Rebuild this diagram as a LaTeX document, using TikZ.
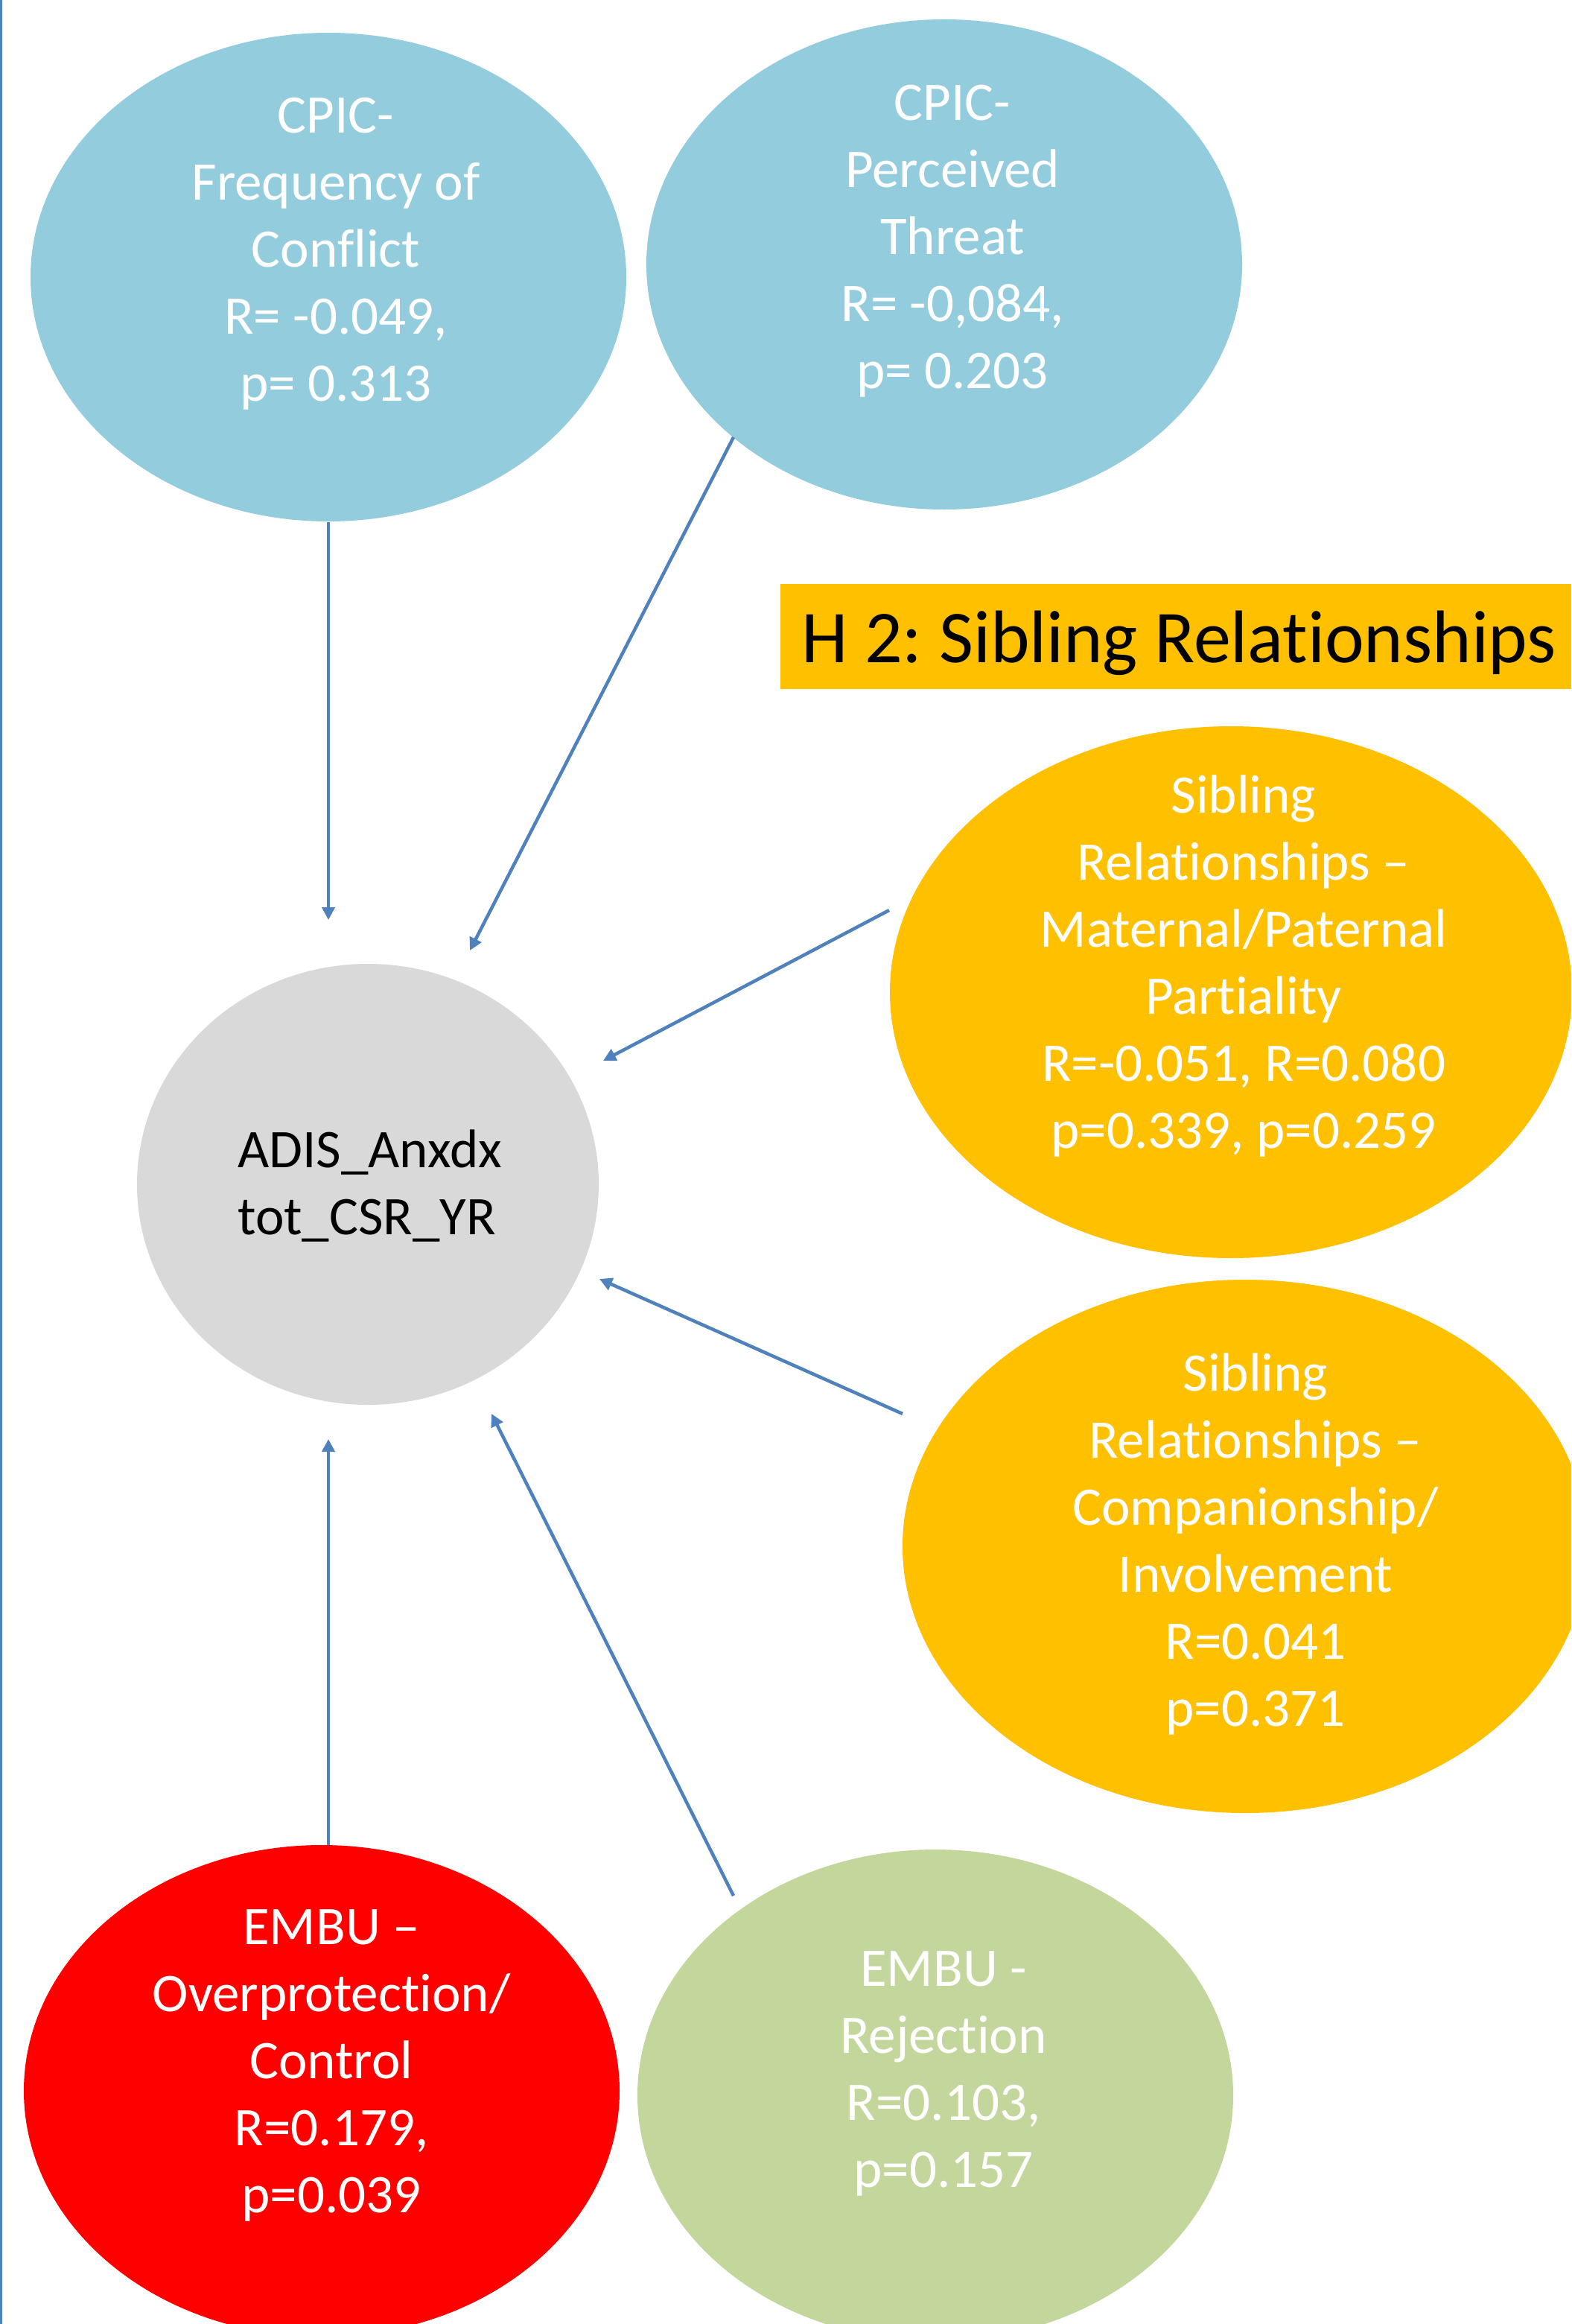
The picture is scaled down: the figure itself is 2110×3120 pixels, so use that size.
\documentclass[tikz,border=0pt]{standalone}
\usepackage{fontspec}
\setmainfont{Carlito}[Ligatures=NoCommon]
\usetikzlibrary{shapes.geometric,arrows.meta}
\definecolor{cpicblue}{HTML}{93CDDD}
\definecolor{sibgold}{HTML}{FFC000}
\definecolor{adisgrey}{HTML}{D9D9D9}
\definecolor{embured}{HTML}{FF0000}
\definecolor{embugreen}{HTML}{C3D69B}
\definecolor{arrowblue}{HTML}{4F81BD}
\frenchspacing
\begin{document}
\begin{tikzpicture}[x=1pt,y=-1pt,
  blob/.style={ellipse, draw=none, inner sep=0pt, outer sep=0pt},
  lbl/.style={text=white, text width=820pt, inner sep=0pt, anchor=base,
              font=\fontsize{73}{90}\selectfont\frenchspacing,
              execute at begin node={\centering\spaceskip=0pt\xspaceskip=0pt\relax}},
  lblleft/.style={text=black, text width=500pt, inner sep=0pt, anchor=base west,
              font=\fontsize{73}{90}\selectfont\frenchspacing,
              execute at begin node={\raggedright\spaceskip=0pt\xspaceskip=0pt\relax}},
  link/.style={draw=arrowblue, line width=4.5pt, -{Triangle[length=17pt,width=17pt]}}
]
\useasboundingbox (0,0) rectangle (2110,3120);
\clip (0,0) rectangle (2110,3120);
\fill[white] (0,0) rectangle (2110,3120);

% left border line
\draw[draw=arrowblue, line width=3pt] (1.5,0) -- (1.5,3120);

% ellipses
\node[blob, fill=cpicblue, minimum width=800pt, minimum height=656pt] (cf) at (441,372) {};
\node[blob, fill=cpicblue, minimum width=800pt, minimum height=658pt] (ct) at (1268,355) {};
\node[blob, fill=adisgrey, minimum width=620pt, minimum height=592pt] (adis) at (494,1590) {};
\node[blob, fill=sibgold, minimum width=916pt, minimum height=714pt] (mat) at (1653,1332) {};
\node[blob, fill=sibgold, minimum width=920pt, minimum height=716pt] (comp) at (1672,2076) {};
\node[blob, fill=embured, minimum width=800pt, minimum height=660pt] (over) at (432,2807) {};
\node[blob, fill=embugreen, minimum width=800pt, minimum height=660pt] (rej) at (1256,2813) {};

% title box
\node[fill=sibgold, minimum width=1062pt, minimum height=141pt, anchor=north west, inner sep=0pt] (h2box) at (1048,784) {};
\node[anchor=base west, inner sep=0pt, font=\fontsize{100}{120}\selectfont\frenchspacing] (h2) at (1076,889) {H 2: Sibling Relationships};

% texts
\node[lbl] (cft) at (451,179) {CPIC-\\Frequency of\\Conflict\\R= -0.049,\\p= 0.313};
\node[lbl] (ctt) at (1279,162) {CPIC-\\Perceived\\Threat\\R= -0,084,\\p= 0.203};
\node[lblleft] (adist) at (319,1567) {ADIS\_Anxdx\\tot\_CSR\_YR};
\node[lbl] (matt) at (1670,1091) {Sibling\\Relationships –\\Maternal/Paternal\\Partiality\\R=-0.051, R=0.080\\p=0.339, p=0.259};
\node[lbl] (compt) at (1686,1867) {Sibling\\Relationships –\\Companionship/\\Involvement\\R=0.041\\p=0.371};
\node[lbl] (overt) at (445,2610) {EMBU –\\Overprotection/\\Control\\R=0.179,\\p=0.039};
\node[lbl] (rejt) at (1267,2666) {EMBU -\\Rejection\\R=0.103,\\p=0.157};

% arrow end points
\coordinate (a1s) at (441,701);  \coordinate (a1t) at (441,1235);
\coordinate (a2s) at (985,587);  \coordinate (a2t) at (631,1276);
\coordinate (a3s) at (1194,1222); \coordinate (a3t) at (810,1424);
\coordinate (a4s) at (1212,1898); \coordinate (a4t) at (805,1717);
\coordinate (a5s) at (441,2477); \coordinate (a5t) at (441,1932);
\coordinate (a6s) at (985,2545); \coordinate (a6t) at (660,1898);

\draw[link] (a1s) -- (a1t);
\draw[link] (a2s) -- (a2t);
\draw[link] (a3s) -- (a3t);
\draw[link] (a4s) -- (a4t);
\draw[link] (a5s) -- (a5t);
\draw[link] (a6s) -- (a6t);
\end{tikzpicture}
\end{document}
